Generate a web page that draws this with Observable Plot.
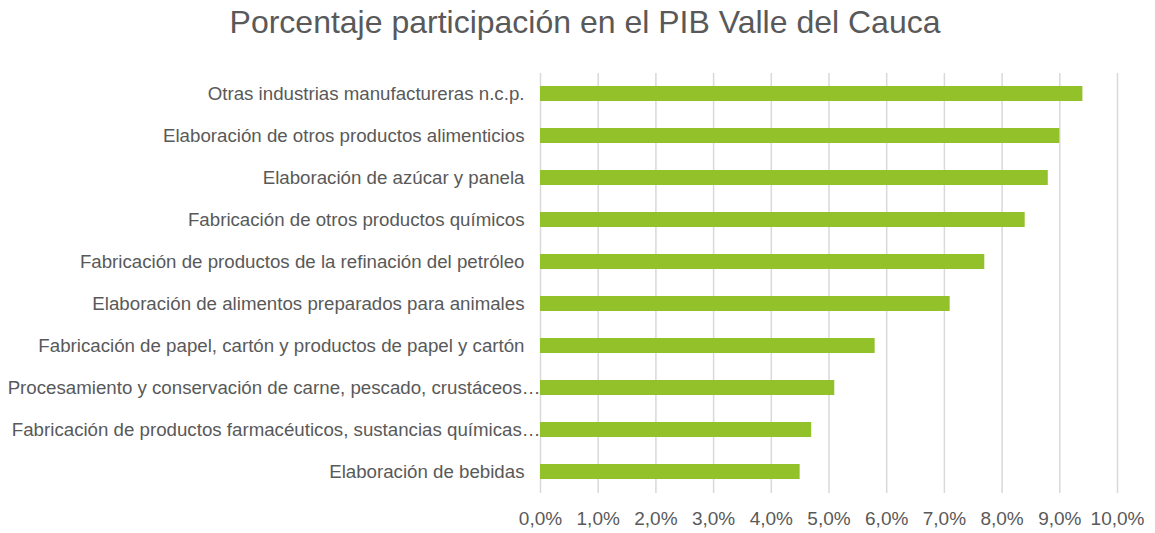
<!DOCTYPE html>
<html>
<head>
<meta charset="utf-8">
<script src="https://cdn.jsdelivr.net/npm/d3@7"></script>
<script src="https://cdn.jsdelivr.net/npm/@observablehq/plot@0.6"></script>
<style>
  html, body { margin: 0; padding: 0; background: #fff; }
  #title { height: 55px; width: 1155px; text-align: center; font-family: "Liberation Sans", Arial, sans-serif;
           font-size: 32px; color: #595959; line-height: 44px; padding-left: 15px; box-sizing: border-box; }
</style>
</head>
<body>
<div id="title">Porcentaje participación en el PIB Valle del Cauca</div>
<div id="chart"></div>
<script>
const categories = [
  "Otras industrias manufactureras n.c.p.",
  "Elaboración de otros productos alimenticios",
  "Elaboración de azúcar y panela",
  "Fabricación de otros productos químicos",
  "Fabricación de productos de la refinación del petróleo",
  "Elaboración de alimentos preparados para animales",
  "Fabricación de papel, cartón y productos de papel y cartón",
  "Procesamiento y conservación de carne, pescado, crustáceos…",
  "Fabricación de productos farmacéuticos, sustancias químicas…",
  "Elaboración de bebidas"
];
const values = [9.4, 9.0, 8.8, 8.4, 7.7, 7.1, 5.8, 5.1, 4.7, 4.5];
const xTicks = [0, 1, 2, 3, 4, 5, 6, 7, 8, 9, 10];

const data = categories.map((c, i) => ({category: c, value: values[i]}));
const fmt = d => d.toFixed(1).replace(".", ",") + "%";
const fullLabels = categories.filter(c => !c.endsWith("…"));
const cutLabels = categories.filter(c => c.endsWith("…"));

const chart = Plot.plot({
  width: 1155,
  height: 478,
  marginTop: 18,
  marginBottom: 40,
  marginLeft: 540,
  marginRight: 38,
  style: {fontFamily: "'Liberation Sans', Arial, sans-serif", color: "#595959", background: "#fff"},
  x: {domain: [0, 10]},
  y: {domain: categories, paddingInner: 0.64, paddingOuter: 0.32},
  marks: [
    Plot.gridX(xTicks, {stroke: "#d9d9d9", strokeOpacity: 1, strokeWidth: 1.5}),
    Plot.axisX(xTicks, {tickSize: 0, tickPadding: 18, tickFormat: fmt, fontSize: 19, label: null, fill: "#595959", letterSpacing: "0.4px"}),
    Plot.axisY(fullLabels, {tickSize: 0, tickPadding: 16, fontSize: 18.7, label: null, fill: "#595959"}),
    Plot.axisY(cutLabels, {tickSize: 0, tickPadding: 0, fontSize: 18.7, label: null, fill: "#595959"}),
    Plot.barX(data, {x: "value", y: "category", fill: "#92C12A"})
  ]
});
document.getElementById("chart").appendChild(chart);
</script>
</body>
</html>
